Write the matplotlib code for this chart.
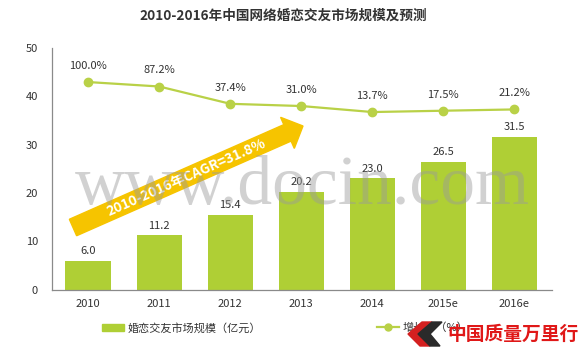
import numpy as np
import matplotlib
matplotlib.use("Agg")
import matplotlib.pyplot as plt
from matplotlib.patches import Polygon, Patch
from matplotlib.lines import Line2D

plt.rcParams['font.family'] = ['Noto Sans CJK SC', 'DejaVu Sans']

# --- data ---
years = ['2010', '2011', '2012', '2013', '2014', '2015e', '2016e']
market_size = [6.0, 11.2, 15.4, 20.2, 23.0, 26.5, 31.5]       # 亿元
growth_rate = [100.0, 87.2, 37.4, 31.0, 13.7, 17.5, 21.2]     # %

title = '2010-2016年中国网络婚恋交友市场规模及预测'
cagr_text = '2010-2016年CAGR=31.8%'
bar_label = '婚恋交友市场规模（亿元）'
line_label = '增长率（%）'

bar_color = '#AFCF35'
line_color = '#B9D147'
arrow_color = '#F6C400'
text_color = '#333333'

W, H = 588, 363
fig = plt.figure(figsize=(W / 100, H / 100), dpi=100)
ax = fig.add_axes([52 / W, 1 - 289.5 / H, 500 / W, 241.5 / H])

x = np.arange(len(years))
ax.bar(x, market_size, width=0.64, color=bar_color, zorder=2)
for xi, v in zip(x, market_size):
    ax.annotate(f'{v:.1f}', (xi, v), xytext=(0, 3.5), textcoords='offset points',
                ha='center', va='bottom', fontsize=8, color=text_color)

ax.set_xlim(-0.51, 6.53)
ax.set_ylim(0, 50)
ax.set_yticks([0, 10, 20, 30, 40, 50])
ax.set_xticks(x)
ax.set_xticklabels(years)
ax.tick_params(axis='both', length=0, labelsize=8, colors=text_color)
ax.tick_params(axis='y', pad=10)
ax.tick_params(axis='x', pad=7)
for s in ['top', 'right']:
    ax.spines[s].set_visible(False)
for s in ['left', 'bottom']:
    ax.spines[s].set_color('#8a8a8a')
    ax.spines[s].set_linewidth(0.9)

# growth rate on a hidden secondary axis
ax2 = ax.twinx()
ax2.plot(x, growth_rate, color=line_color, linewidth=1.6, marker='o',
         markersize=6, zorder=3)
for xi, g in zip(x, growth_rate):
    ax2.annotate(f'{g:.1f}%', (xi, g), xytext=(0, 8), textcoords='offset points',
                 ha='center', va='bottom', fontsize=8, color=text_color)
ax2.set_ylim(-497, 198)
ax2.axis('off')

fig.text(283 / W, 1 - 16 / H, title, ha='center', va='center',
         fontsize=9.8, fontweight='bold', color=text_color)


# --- CAGR arrow (drawn in image pixel space) ---
def fpt(px, py):
    return (px / W, 1 - py / H)


tail = np.array([73.0, 227.5])
tip = np.array([303.0, 126.0])
d = (tip - tail) / np.linalg.norm(tip - tail)
n = np.array([-d[1], d[0]])
shaft_hw, head_hw, head_len = 9.0, 17.0, 17.0
base = tip - d * head_len
pts = [tail + n * shaft_hw, base + n * shaft_hw, base + n * head_hw, tip,
       base - n * head_hw, base - n * shaft_hw, tail - n * shaft_hw]
fig.patches.append(Polygon([fpt(*p) for p in pts], closed=True,
                           transform=fig.transFigure, color=arrow_color,
                           zorder=5))
angle = np.degrees(np.arctan2(-d[1], d[0]))
mid = tail + (base - tail) * 0.53
fig.text(*fpt(*mid), cagr_text, rotation=angle, rotation_mode='anchor',
         ha='center', va='center', fontsize=10, fontweight='bold',
         color='white', zorder=6)

# watermark
fig.text(*fpt(302, 187), 'www.docin.com', ha='center', va='center',
         fontsize=50, family='Liberation Serif', color='#9a9a9a', alpha=0.45,
         zorder=7)

# legend
handles = [Patch(color=bar_color, label=bar_label),
           Line2D([0], [0], color=line_color, linewidth=1.6, marker='o',
                  markersize=5, label=line_label)]
fig.legend(handles=handles, loc='center left', bbox_to_anchor=fpt(102, 328),
           ncol=2, frameon=False, fontsize=8, handlelength=2.0,
           handletextpad=0.3, columnspacing=10.4, borderpad=0,
           borderaxespad=0, labelcolor=text_color)

# logo in the bottom right corner
chev_red = [(422, 322), (432, 322), (420, 334), (430, 346), (420, 346), (408, 334)]
chev_dark = [(432, 322), (442, 322), (430, 334), (440, 346), (430, 346), (418, 334)]
fig.patches.append(Polygon([fpt(*p) for p in chev_red], closed=True,
                           transform=fig.transFigure, color='#d42020', zorder=8))
fig.patches.append(Polygon([fpt(*p) for p in chev_dark], closed=True,
                           transform=fig.transFigure, color='#2a2a2a', zorder=8))
fig.text(*fpt(513, 334), '中国质量万里行', ha='center', va='center',
         fontsize=13.5, fontweight='bold', color='#e01818', zorder=9)

fig.savefig('out.png', dpi=100)
